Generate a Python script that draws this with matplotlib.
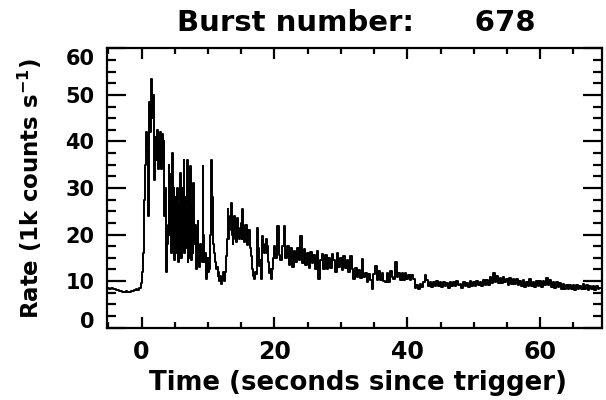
import numpy as np
import matplotlib
matplotlib.use("Agg")
import matplotlib.pyplot as plt
from matplotlib.ticker import MultipleLocator
from matplotlib.transforms import ScaledTranslation

# ---------------- data ----------------
# pre-trigger background: bins of 0.25 s starting at t = -5.0
pre_start, pre_dt = -5.0, 0.25
rate_pre = [8.6, 8.3, 8.5, 8.2, 8.4, 8.1, 8.0, 7.8, 7.9, 7.7,
            7.6, 7.8, 7.7, 7.6, 7.9, 7.8, 8.0, 8.2, 8.1, 8.5]

# main burst: bins of 0.125 s starting at t = 0.0
burst_start, burst_dt = 0.0, 0.125
rate_burst = [9.5, 12.0, 16.0, 22.0, 27.5, 35.0, 42.0, 38.0,
              24.0, 44.0, 48.5, 42.0, 53.5, 45.0, 50.0, 42.0,
              31.8, 41.0, 36.0, 42.5, 34.0, 40.0, 35.0, 42.0,
              34.0, 41.5, 36.0, 40.0, 24.0, 30.0, 12.0, 18.0,
              22.0, 35.0, 20.0, 33.0, 16.0, 37.5, 18.0, 30.0,
              14.5, 28.0, 16.0, 30.0, 14.0, 26.0, 15.0, 33.3,
              15.0, 30.0, 17.0, 36.0, 16.0, 28.0, 17.0, 36.0,
              14.0, 30.0, 15.0, 34.7, 14.5, 26.0, 16.0, 31.0,
              18.0, 22.0, 12.5, 20.0, 23.0, 15.0, 13.0, 18.0,
              16.0, 14.0, 34.7, 20.0, 14.0, 16.0, 10.4, 13.0,
              15.0, 12.0, 12.5, 20.0, 36.0, 28.0, 24.0, 18.0,
              16.0, 14.0, 12.5, 13.0, 11.0, 12.0, 10.0, 11.0,
              9.3, 10.5, 10.5, 12.0, 10.0, 12.0, 15.4, 19.0,
              25.4, 19.0, 21.0, 24.0, 26.8, 20.0, 18.0, 23.0,
              24.0, 19.0, 18.5, 22.0, 23.5, 19.5, 19.0, 21.5,
              22.5, 19.0, 25.4, 20.0, 18.5, 22.0, 22.0, 19.0,
              17.8, 21.0, 21.0, 17.0, 15.4, 13.0, 12.5, 11.0,
              10.4, 12.0, 11.5, 16.0, 21.5, 17.0, 13.3, 14.5,
              10.4, 14.0, 19.7, 16.5, 16.0, 18.0, 19.0, 16.0,
              17.5, 14.0, 11.8, 12.5, 10.4, 11.5, 12.5, 15.0]

# decaying tail: bins of 0.25 s starting at t = 20.0
tail_start, tail_dt = 20.0, 0.25
rate_tail = [17.5, 15.0, 21.8, 15.5,
             14.5, 17.5, 21.8, 15.0,
             17.5, 13.5, 17.0, 13.0,
             16.5, 14.0, 17.0, 14.5,
             19.7, 13.8, 16.8, 13.5,
             16.0, 12.8, 16.3, 13.8,
             15.5, 12.5, 16.5, 10.4,
             14.5, 15.8, 12.5, 15.5,
             12.5, 15.0, 12.8, 15.8,
             14.5, 12.0, 16.0, 13.0,
             15.0, 12.3, 15.3, 12.8,
             14.5, 12.0, 15.4, 12.6,
             10.4, 12.8, 10.8, 12.3,
             10.7, 14.7, 10.8, 11.8,
             9.7, 11.5, 10.3, 8.2,
             11.5, 13.2, 10.2, 12.2,
             10.3, 11.8, 10.0, 9.7,
             11.7, 9.8, 12.2, 10.8,
             10.4, 14.0, 10.8, 11.8,
             10.3, 11.7, 10.2, 11.8,
             10.4, 11.4, 10.2, 11.2,
             10.5, 8.6, 9.2, 8.2,
             9.4, 8.7, 9.8, 11.4,
             10.3, 8.9, 9.9, 8.7,
             9.8, 8.9, 10.1, 9.0,
             9.7, 8.7, 9.9, 8.9,
             9.6, 8.5, 9.9, 9.0,
             9.8, 8.9, 10.1, 9.1,
             9.4, 8.6, 9.9, 8.9,
             9.6, 8.8, 10.0, 9.0,
             9.9, 9.0, 10.1, 9.1,
             9.7, 8.9, 10.3, 9.2,
             10.2, 9.2, 10.9, 9.5,
             11.8, 9.8, 11.0, 9.6,
             10.7, 9.5, 10.8, 9.7,
             10.4, 9.2, 10.6, 9.4,
             10.5, 9.3, 10.5, 9.1,
             10.0, 9.0, 10.2, 8.8,
             9.9, 8.9, 10.5, 8.9,
             9.8, 8.7, 10.0, 9.0,
             10.0, 8.8, 10.1, 9.1,
             10.7, 9.2, 10.3, 8.8,
             9.7, 8.6, 9.7, 8.8,
             9.5, 8.4, 9.3, 8.4,
             9.2, 8.2, 9.2, 8.4,
             9.1, 8.1, 9.1, 8.3,
             9.0, 8.2, 9.3, 8.3,
             9.1, 8.1, 8.9, 8.3,
             8.9, 8.0, 9.0, 8.4,
             8.6]

x_ticks = [0, 20, 40, 60]
y_ticks = [0, 10, 20, 30, 40, 50, 60]
title_text = "Burst number:      678"
x_label = "Time (seconds since trigger)"
y_label = r"Rate (1k counts s$^{-1}$)"

time = np.concatenate([pre_start + pre_dt * np.arange(len(rate_pre)),
                       burst_start + burst_dt * np.arange(len(rate_burst)),
                       tail_start + tail_dt * np.arange(len(rate_tail))])
rate = np.array(rate_pre + rate_burst + rate_tail)

# ---------------- figure ----------------
plt.rcParams["font.family"] = ["DejaVu Sans"]
plt.rcParams["font.weight"] = "bold"
plt.rcParams["mathtext.default"] = "bf"

fig = plt.figure(figsize=(6.06, 4.0), dpi=100)
ax = fig.add_axes([0.1766, 0.181, 0.8168, 0.698])

ax.plot(time, rate, color="black", lw=1.4, drawstyle="steps-mid")

ax.set_xlim(-5.2, 69.3)
ax.set_ylim(0, 60)
ax.set_xticks(x_ticks)
ax.set_yticks(y_ticks)
ax.xaxis.set_minor_locator(MultipleLocator(5))
ax.yaxis.set_minor_locator(MultipleLocator(2.5))

for s in ax.spines.values():
    s.set_linewidth(1.6)

ax.tick_params(axis="x", which="major", direction="in", length=8, width=1.6,
               top=True, bottom=True, labelsize=17, pad=9)
ax.tick_params(axis="x", which="minor", direction="in", length=4.5, width=1.6,
               top=True, bottom=True)
ax.tick_params(axis="y", which="major", direction="in", length=13.5, width=1.6,
               left=True, right=True, labelsize=15, pad=9)
ax.tick_params(axis="y", which="minor", direction="in", length=6.5, width=1.6,
               left=True, right=True)
for lab in ax.get_xticklabels() + ax.get_yticklabels():
    lab.set_fontweight("bold")

# end labels of the y axis sit slightly inside the frame in the reference
ylabels = ax.get_yticklabels()
ylabels[-1].set_transform(ylabels[-1].get_transform() +
                          ScaledTranslation(0, -0.09, fig.dpi_scale_trans))
ylabels[0].set_transform(ylabels[0].get_transform() +
                         ScaledTranslation(0, 0.08, fig.dpi_scale_trans))

fig.text(0.588, 0.943, title_text, ha="center", va="center",
         fontsize=21, fontweight="bold")
fig.text(0.59, 0.043, x_label, ha="center", va="center",
         fontsize=18.7, fontweight="bold")
fig.text(0.05, 0.529, y_label, ha="center", va="center", rotation=90,
         fontsize=16.5, fontweight="bold")

fig.savefig("out.png", dpi=100)
